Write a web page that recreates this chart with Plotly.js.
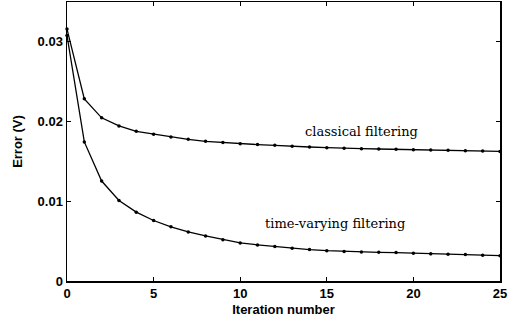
<!DOCTYPE html>
<html>
<head>
<meta charset="utf-8">
<script src="https://cdn.plot.ly/plotly-3.0.1.min.js"></script>
<style>
html,body{margin:0;padding:0;background:#fff;}
#chart{width:514px;height:324px;}
</style>
</head>
<body>
<div id="chart"></div>
<script>
const iterations = [0,1,2,3,4,5,6,7,8,9,10,11,12,13,14,15,16,17,18,19,20,21,22,23,24,25];
const classical = [0.0316,0.02285,0.02047,0.01946,0.01878,0.01842,0.01807,0.01777,0.01752,0.01736,0.01723,0.01711,0.01702,0.01689,0.01681,0.01673,0.01664,0.0166,0.01656,0.01652,0.01648,0.01644,0.0164,0.01635,0.01631,0.01626];
const timeVarying = [0.0308,0.01745,0.01254,0.0101,0.00864,0.00759,0.00679,0.00616,0.00565,0.00518,0.00478,0.00453,0.00432,0.00411,0.00394,0.00381,0.00371,0.00365,0.0036,0.00356,0.00348,0.00341,0.00336,0.00331,0.00324,0.00318];
const xTicks = [0,5,10,15,20,25];
const yTicks = [0,0.01,0.02,0.03];
const yTickLabels = ['0','0.01','0.02','0.03'];
const labels = [
  {text:'classical filtering', x:17, y:0.0187},
  {text:'time-varying filtering', x:15.5, y:0.0072}
];

function trace(y){
  return {x:iterations, y:y, type:'scatter', mode:'lines+markers',
    line:{color:'#000', width:1.3}, marker:{color:'#000', size:3.5}, showlegend:false, cliponaxis:false};
}

const axisCommon = {
  showgrid:false, zeroline:false, showline:true, linecolor:'#000', linewidth:1.5,
  mirror:'ticks', ticks:'inside', ticklen:4, tickwidth:1, tickcolor:'#000',
  tickfont:{family:'Liberation Sans, Arial, sans-serif', size:13, color:'#000'}
};

const layout = {
  width:514, height:324,
  margin:{l:67, r:14, t:2, b:43},
  paper_bgcolor:'#fff', plot_bgcolor:'#fff',
  xaxis:Object.assign({}, axisCommon, {
    range:[0,25], tickvals:xTicks, ticktext:xTicks.map(v => '<b>' + v + '</b>'),
    title:{text:'<b>Iteration number</b>', font:{family:'Liberation Sans, Arial, sans-serif', size:13, color:'#000'}, standoff:5}
  }),
  yaxis:Object.assign({}, axisCommon, {
    range:[0,0.035], tickvals:yTicks, ticktext:yTickLabels.map(s => '<b>' + s + '</b>'),
    title:{text:'<b>Error (V)</b>', font:{family:'Liberation Sans, Arial, sans-serif', size:13, color:'#000'}, standoff:12}
  }),
  annotations: labels.map(l => ({
    text:l.text, x:l.x, y:l.y, xref:'x', yref:'y', showarrow:false,
    font:{family:'DejaVu Serif, serif', size:13, color:'#000'}
  }))
};

Plotly.newPlot('chart', [trace(classical), trace(timeVarying)], layout, {staticPlot:true, displayModeBar:false});
</script>
</body>
</html>
